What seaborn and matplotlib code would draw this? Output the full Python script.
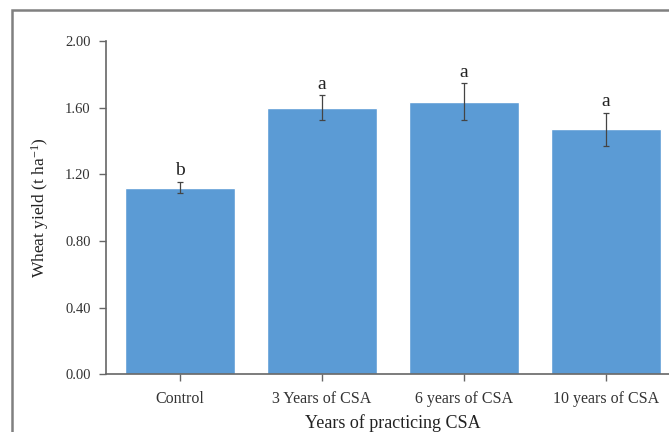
import matplotlib
matplotlib.use("Agg")
import matplotlib.pyplot as plt
from matplotlib.patches import Rectangle
from matplotlib.ticker import FormatStrFormatter
import numpy as np
import pandas as pd
import seaborn as sns

# Wheat yield by duration of climate-smart agriculture (CSA) practice
treatments = ["Control", "3 Years of CSA", "6 years of CSA", "10 years of CSA"]
yield_t_ha = [1.12, 1.60, 1.635, 1.47]
std_err = [0.035, 0.075, 0.11, 0.10]
letters = ["b", "a", "a", "a"]

sns.set_theme(style="white")
plt.rcParams["font.family"] = ["Liberation Serif", "DejaVu Serif"]
plt.rcParams["mathtext.fontset"] = "custom"
plt.rcParams["mathtext.rm"] = "Liberation Serif"
plt.rcParams["mathtext.it"] = "Liberation Serif:italic"

df = pd.DataFrame({"treatment": treatments, "yield": yield_t_ha})

fig = plt.figure(figsize=(6.69, 4.32), dpi=100)
ax = fig.add_axes([0.1584, 0.1336, 0.858, 0.7715])

sns.barplot(data=df, x="treatment", y="yield", color="#5B9BD5",
            saturation=1, width=0.77, errorbar=None, ax=ax)

xpos = np.arange(len(treatments))
ax.errorbar(xpos, yield_t_ha, yerr=std_err, fmt="none", ecolor="#444444",
            elinewidth=0.9, capsize=2.5, capthick=0.9)

for x, y, e, t in zip(xpos, yield_t_ha, std_err, letters):
    ax.text(x, y + e + 0.015, t, ha="center", va="bottom",
            fontsize=14, color="#222222")

ax.set_xlim(-0.52, 3.52)
ax.set_ylim(0, 2.0)
ax.set_yticks(np.arange(0, 2.01, 0.4))
ax.yaxis.set_major_formatter(FormatStrFormatter("%.2f"))

ax.set_xlabel("Years of practicing CSA", fontsize=13, color="#222222", labelpad=5)
ax.set_ylabel("Wheat yield (t ha$^{\\mathrm{-1}}$)", fontsize=12.5,
              color="#222222", labelpad=10)

for side in ["top", "right"]:
    ax.spines[side].set_visible(False)
for side in ["left", "bottom"]:
    ax.spines[side].set_color("#666666")
    ax.spines[side].set_linewidth(1.2)

ax.tick_params(axis="both", which="both", direction="out", length=5,
               width=1.0, color="#666666", labelcolor="#333333",
               left=True, bottom=True)
ax.tick_params(axis="y", pad=6, labelsize=10.5)
ax.tick_params(axis="x", pad=7, labelsize=11.5)

# outer frame around the figure
fig.patches.append(Rectangle((12 / 669, -0.1), 1.2, 1 - 10 / 432 + 0.1,
                             transform=fig.transFigure, fill=False,
                             edgecolor="#808080", linewidth=1.8))

fig.savefig("out.png", dpi=100)
